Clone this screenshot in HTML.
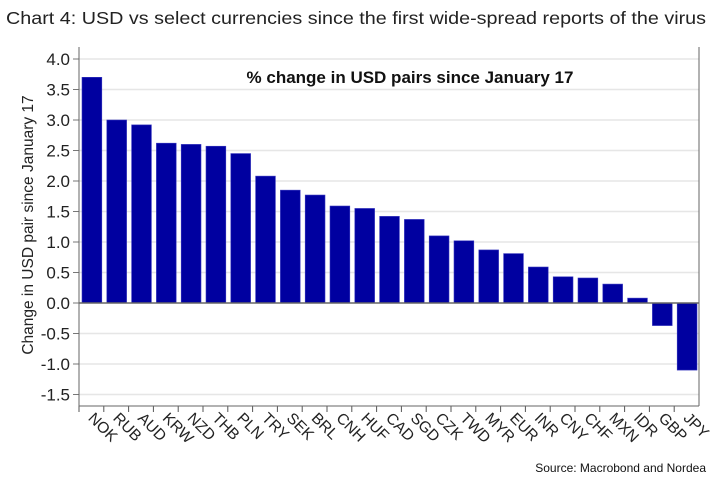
<!DOCTYPE html>
<html><head><meta charset="utf-8"><style>
body{margin:0;background:#fff;font-family:"Liberation Sans",sans-serif;}
svg text{font-family:"Liberation Sans",sans-serif;}
</style></head><body>
<svg width="714" height="481" xmlns="http://www.w3.org/2000/svg">
<text x="6" y="24" font-size="17.5" fill="#222" textLength="700" lengthAdjust="spacingAndGlyphs">Chart 4: USD vs select currencies since the first wide-spread reports of the virus</text>
<g id="grid"></g>
<g id="bars"></g>
<g id="axes"></g>
<text x="410" y="83" font-size="17" font-weight="bold" text-anchor="middle" fill="#111">% change in USD pairs since January 17</text>
<text transform="translate(33,225) rotate(-90)" font-size="15.5" text-anchor="middle" fill="#222">Change in USD pair since January 17</text>
<text x="706" y="472" font-size="12" text-anchor="end" fill="#111">Source: Macrobond and Nordea</text>
</svg>
<script>
const categories=["NOK","RUB","AUD","KRW","NZD","THB","PLN","TRY","SEK","BRL","CNH","HUF","CAD","SGD","CZK","TWD","MYR","EUR","INR","CNY","CHF","MXN","IDR","GBP","JPY"];
const values=[3.7,3.0,2.92,2.62,2.6,2.57,2.45,2.08,1.85,1.77,1.59,1.55,1.42,1.37,1.1,1.02,0.87,0.81,0.59,0.43,0.41,0.31,0.08,-0.37,-1.1];
const yTicks=[4.0,3.5,3.0,2.5,2.0,1.5,1.0,0.5,0.0,-0.5,-1.0,-1.5];
const NS="http://www.w3.org/2000/svg";
const L=79,R=699,T=47,B=406;
const y=v=>303-v*61;
const step=(R-L)/categories.length;
const x=i=>L+i*step;
function mk(tag,attrs,parent){const e=document.createElementNS(NS,tag);for(const k in attrs)e.setAttribute(k,attrs[k]);parent.appendChild(e);return e;}
const grid=document.getElementById('grid'),bars=document.getElementById('bars'),axes=document.getElementById('axes');
yTicks.forEach(v=>{
  if(v!==0){const g=mk('line',{x1:L,x2:R,y1:y(v),y2:y(v),stroke:'#e6e6e6','stroke-width':1.5},grid);
  
  }
  const tk=mk('line',{x1:L-6,x2:L,y1:y(v),y2:y(v),stroke:'#777'},axes);
  
  
  const t=mk('text',{x:L-9,y:y(v)+6,'font-size':17,'text-anchor':'end',fill:'#222'},axes);
  t.textContent=v.toFixed(1);
  
  
});
values.forEach((v,i)=>{
  const r=mk('rect',{x:x(i)+3,width:step-5,y:Math.min(y(v),y(0)),height:Math.abs(y(v)-y(0)),fill:'#0000a0',stroke:'#3a3ac0','stroke-width':0.6},bars);
  
  
});
categories.forEach((c,i)=>{
  const tk=mk('line',{x1:x(i),x2:x(i),y1:B,y2:B+6,stroke:'#555'},axes);
  
  
  const cx=x(i)+step/2-4, cy=B+13;
  const t=mk('text',{x:cx,y:cy,'font-size':15.5,'text-anchor':'start',fill:'#222',transform:`rotate(45 ${cx} ${cy})`},axes);
  t.textContent=c;
  
  
});
const z=mk('line',{x1:L,x2:R,y1:y(0),y2:y(0),stroke:'#666','stroke-width':1.5},axes);


const la=mk('line',{x1:L,x2:L,y1:T,y2:B,stroke:'#666'},axes);


const ra=mk('line',{x1:R,x2:R,y1:T,y2:B,stroke:'#666'},axes);


const ba=mk('line',{x1:L,x2:R,y1:B,y2:B,stroke:'#666'},axes);


</script>
</body></html>
